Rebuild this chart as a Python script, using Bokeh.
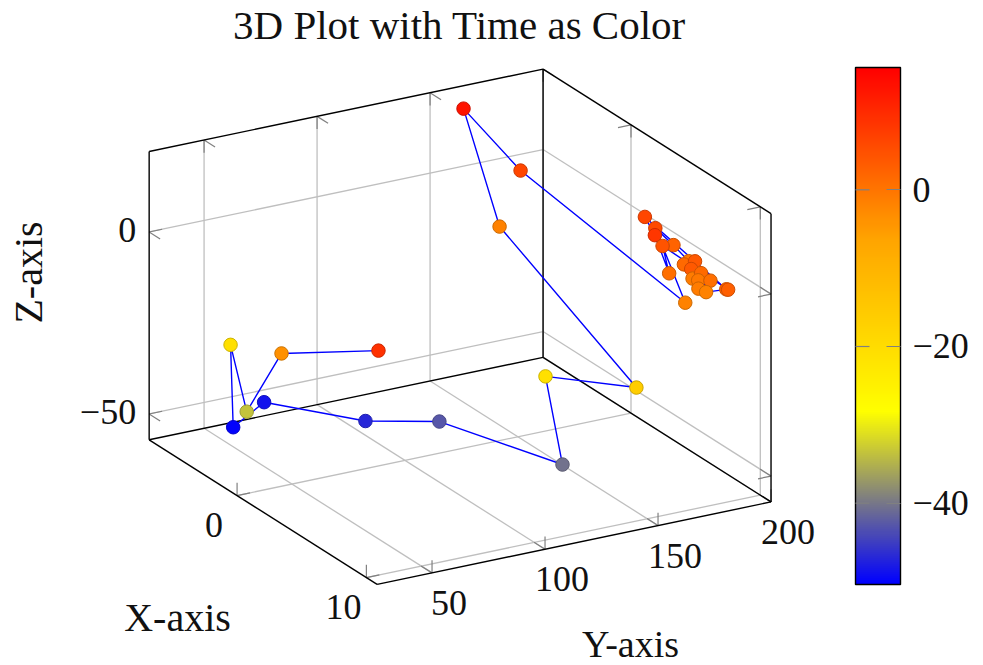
import numpy as np
from bokeh.plotting import figure
from bokeh.models import ColorBar, ColumnDataSource, FixedTicker, LinearColorMapper, Range1d
from bokeh.core.properties import value
from bokeh.embed import file_html
from bokeh.resources import INLINE

# ---- data (trajectory in path order) ----
xs = [-2, -2, -2, -4, -1, -2, 0, 1, 4, 3, 4, 2, -5, -3,
      5, 3, 4, 6, 5, 6, 6, 6, 6, 6, 7, 6, 6, 8, 2, 3, 4, 3, 8]
ys = [99.7, 56.8, 41.4, 45.7, 29.7, 49.1, 82.5, 109.5, 146.8, 145.0, 179.5, 130.4, 154.5, 168.3,
      195.4, 193.6, 195.9, 191.2, 194.8, 194.0, 192.3, 192.9, 196.7, 195.4, 195.1, 195.5, 198.9,
      196.4, 194.7, 193.4, 194.0, 196.8, 197.2]
zs = [-31.4, -26.6, -40.6, -27.3, -41.1, -39.0, -44.0, -45.4, -55.3, -33.1, -38.4, 7.7, 21.2, 6.9,
      -14.9, 1.3, -1.4, -0.7, -4.3, -1.1, -3.0, -5.7, -4.7, -6.5, -4.3, -8.8, -10.2,
      -4.6, 2.0, -0.6, -8.9, -4.0, -4.8]
times = [8.9, -3.7, -33.6, -21, -50, -48.6, -46.9, -42.7, -40.5, -21, -16.2, -1.7, 13, 6.3,
         -1.7, 5.6, 2.3, -0.4, 1.6, 3.6, 3.6, -1.1, 1.6, -0.4, 0.9, -1.1, -1.7,
         2.4, 6.3, 8.3, 0.9, 4.3, 2.9]

x_ticks = [0, 10]
y_ticks = [50, 100, 150, 200]
z_ticks = [-50, 0]
t_ticks = [-40, -20, 0]
x_labels = ["0", "10"]
y_labels = ["50", "100", "150", "200"]
z_labels = ["\u221250", "0"]
t_labels = {-40: "\u221240", -20: "\u221220", 0: "0"}

X_LIM = (-6.8, 10.83)
Y_LIM = (25.7, 200.0)
Z_LIM = (-57.1, 22.1)
T_LIM = (-50.4, 15.6)

TITLE = "3D Plot with Time as Color"
FONT = "Liberation Serif"


def proj(x, y, z):
    """View projection of the 3D box on to the page."""
    return (178.5 + 12.93 * x + 2.26 * y,
            299.38 + 8.2 * x - 0.473 * y - 3.64 * z)


def colormap(stops, n=256):
    pos = np.linspace(0, 1, len(stops))
    u = np.linspace(0, 1, n)
    return np.array([np.interp(u, pos, [s[c] for s in stops]) for c in range(3)]).T


def to_hex(rows):
    return ["#%02x%02x%02x" % tuple(int(round(v)) for v in r) for r in rows]


rgb = colormap([(0, 0, 255), (255, 255, 0), (255, 165, 0), (255, 0, 0)])
fill_map = LinearColorMapper(palette=to_hex(rgb), low=T_LIM[0], high=T_LIM[1])
edge_map = LinearColorMapper(palette=to_hex(rgb * 0.8), low=T_LIM[0], high=T_LIM[1])

p = figure(width=983, height=665, output_backend="svg", toolbar_location=None,
           x_range=Range1d(0, 983), y_range=Range1d(665, 0),
           min_border=0, outline_line_color=None, x_axis_type="linear")
p.axis.visible = False
p.grid.visible = False
p.background_fill_color = "white"


def seg(pairs, color, width):
    a = [proj(*q[0]) for q in pairs]
    b = [proj(*q[1]) for q in pairs]
    p.segment([c[0] for c in a], [c[1] for c in a], [c[0] for c in b], [c[1] for c in b],
              line_color=color, line_width=width)


X0, X1 = X_LIM
Y0, Y1 = Y_LIM
Z0, Z1 = Z_LIM

# grid on the three back planes
grid = []
for x in x_ticks:
    grid += [((x, Y0, Z0), (x, Y1, Z0)), ((x, Y1, Z0), (x, Y1, Z1))]
for y in y_ticks:
    grid += [((X0, y, Z0), (X1, y, Z0)), ((X0, y, Z0), (X0, y, Z1))]
for z in z_ticks:
    grid += [((X0, Y0, z), (X0, Y1, z)), ((X0, Y1, z), (X1, Y1, z))]
seg(grid, "#bfbfbf", 1.3)

# tick marks
TX, TY, TZ = 0.85, 5.75, 3.5
ticks = []
for x in x_ticks:
    ticks += [((x, Y0, Z0), (x, Y0, Z0 + TZ)), ((x, Y0, Z0), (x, Y0 + TY, Z0)),
              ((x, Y1, Z1), (x, Y1, Z1 - TZ)), ((x, Y1, Z1), (x, Y1 - TY, Z1))]
for y in y_ticks:
    ticks += [((X1, y, Z0), (X1, y, Z0 + TZ)), ((X1, y, Z0), (X1 - TX, y, Z0)),
              ((X0, y, Z1), (X0, y, Z1 - TZ)), ((X0, y, Z1), (X0 + TX, y, Z1))]
for z in z_ticks:
    ticks += [((X0, Y0, z), (X0 + TX, Y0, z)), ((X0, Y0, z), (X0, Y0 + TY, z)),
              ((X1, Y1, z), (X1 - TX, Y1, z)), ((X1, Y1, z), (X1, Y1 - TY, z))]
seg(ticks, "#808080", 1.2)

# box
box = [((X0, Y0, Z0), (X1, Y0, Z0)), ((X1, Y0, Z0), (X1, Y1, Z0)),
       ((X0, Y0, Z0), (X0, Y1, Z0)), ((X0, Y1, Z0), (X1, Y1, Z0)),
       ((X0, Y0, Z0), (X0, Y0, Z1)), ((X0, Y1, Z0), (X0, Y1, Z1)), ((X1, Y1, Z0), (X1, Y1, Z1)),
       ((X0, Y0, Z1), (X0, Y1, Z1)), ((X0, Y1, Z1), (X1, Y1, Z1))]
seg(box, "black", 1.4)

# trajectory
sx, sy = proj(np.array(xs, float), np.array(ys, float), np.array(zs, float))
src = ColumnDataSource(dict(sx=sx, sy=sy, t=times))
p.line("sx", "sy", source=src, line_color="#0000ff", line_width=1.4)
p.scatter("sx", "sy", source=src, size=13.5, marker="circle",
          fill_color={"field": "t", "transform": fill_map},
          line_color={"field": "t", "transform": edge_map}, line_width=1)


def labels(px, py, texts, size="36px", align="center", angle=0.0):
    p.text(px, py, text=texts, text_font=value(FONT), text_font_size=value(size),
           text_align=align, text_baseline="middle", text_color="#111111", angle=angle)


# tick labels
for vals, txt, fn, off, al in (
        (x_ticks, x_labels, lambda v: proj(v, Y0, Z0), (-23, 29), "center"),
        (y_ticks, y_labels, lambda v: proj(X1, v, Z0), (17, 30), "center"),
        (z_ticks, z_labels, lambda v: proj(X0, Y0, v), (-13, -2), "right")):
    pts = [fn(v) for v in vals]
    labels([q[0] + off[0] for q in pts], [q[1] + off[1] for q in pts], txt, align=al)

# title and axis labels
labels([459], [24], [TITLE], size="41px")
labels([177], [617], ["X-axis"], size="40px")
labels([630], [643], ["Y-axis"], size="38px")
labels([28], [272], ["Z-axis"], size="40px", angle=np.pi / 2)

# colour bar
bar = ColorBar(color_mapper=fill_map, location=(855, 81), width=45, height=517,
               padding=0, margin=0, label_standoff=12,
               ticker=FixedTicker(ticks=t_ticks), major_label_overrides=t_labels,
               major_label_text_font=FONT, major_label_text_font_size="36px",
               major_label_text_color="#111111",
               major_tick_in=14, major_tick_out=0, major_tick_line_color="#808080",
               major_tick_line_width=1.2, minor_tick_line_color=None,
               bar_line_color="black", bar_line_width=1.4)
p.add_layout(bar, "center")

# matching tick marks on the left side of the colour bar
BAR_T0, BAR_SCALE = 189.3, 7.835
p.segment([855] * 3, [BAR_T0 - BAR_SCALE * t for t in t_ticks],
          [869] * 3, [BAR_T0 - BAR_SCALE * t for t in t_ticks],
          line_color="#808080", line_width=1.2, level="overlay")

open("out.html", "w").write(file_html(p, INLINE))
